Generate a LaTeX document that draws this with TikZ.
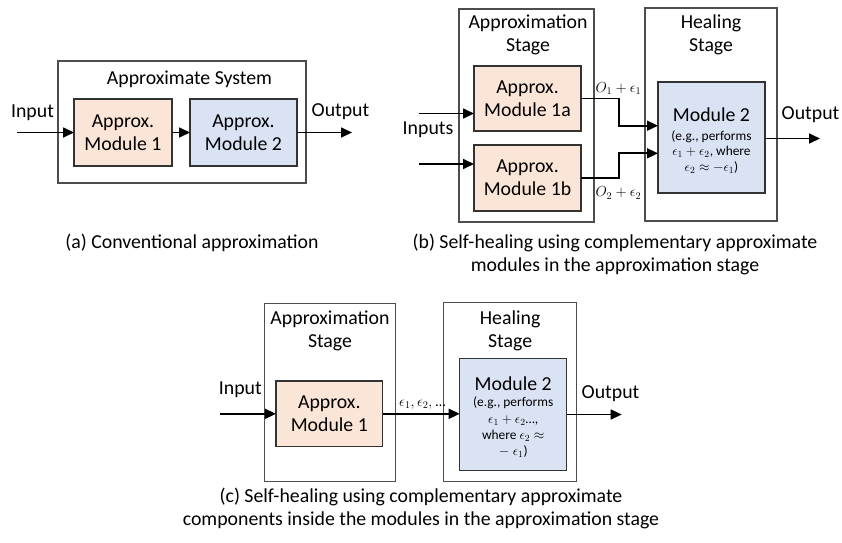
\RequirePackage{fix-cm}
\documentclass[tikz,border=0pt]{standalone}
\usepackage{fontspec}
\setmainfont{Carlito}
\usetikzlibrary{arrows.meta}

\definecolor{peach}{HTML}{FBE5D6}
\definecolor{paleblue}{HTML}{DAE3F3}
\definecolor{framegray}{HTML}{4D4D4D}
\definecolor{edgegray}{HTML}{333333}

\newcommand\lgfont{\fontsize{19.8}{23.2}\selectfont}
\newcommand\smfont{\fontsize{13.4}{15.6}\selectfont}
\newcommand\tagfont{\fontsize{14.6}{16}\selectfont}

\begin{document}
\begin{tikzpicture}[x=1pt,y=-1pt,
  stagebox/.style={draw=framegray, line width=1.1pt, inner sep=0pt, outer sep=0pt},
  modbox/.style={draw=edgegray, line width=1.2pt, inner sep=0pt, outer sep=0pt,
    align=center, font=\lgfont},
  approxmod/.style={modbox, fill=peach},
  healmod/.style={modbox, fill=paleblue},
  lbl/.style={inner sep=0pt, align=center, font=\lgfont},
  smlbl/.style={inner sep=0pt, align=center, font=\smfont},
  taglbl/.style={inner sep=0pt, font=\tagfont},
  arr/.style={draw=black, line width=1.7pt, -{Triangle[length=11pt,width=10pt]}},
]
\useasboundingbox (0,0) rectangle (842,542);

% ---------- (a) conventional approximation ----------
\node[stagebox, minimum width=248pt, minimum height=122pt] (sysA) at (182,122) {};
\node[lbl] (sysAtitle) at (189.5,79.5) {Approximate System};
\node[approxmod, minimum width=98pt, minimum height=67pt] (a1) at (123,132.5) {Approx.\\Module 1};
\node[healmod, minimum width=107pt, minimum height=67pt] (a2) at (243.5,132.5) {Approx.\\Module 2};
\node[lbl] (inAlbl) at (32.5,112.5) {Input};
\node[lbl] (outAlbl) at (340.5,111.5) {Output};
\coordinate (inA) at (17,132.5);
\coordinate (outA) at (352,132.5);
\draw[arr] (inA) -- (a1.west);
\draw[arr] (a1.east) -- (a2.west);
\draw[arr] (a2.east) -- (outA);
\node[lbl] (capA) at (192,243) {(a) Conventional approximation};

% ---------- (b) complementary modules ----------
\node[stagebox, minimum width=135pt, minimum height=213pt] (stB1) at (526.5,115.5) {};
\node[lbl] (stB1title) at (528,35) {Approximation\\Stage};
\node[approxmod, minimum width=107pt, minimum height=65pt] (b1a) at (527.5,98.5) {Approx.\\Module 1a};
\node[approxmod, minimum width=107pt, minimum height=66pt] (b1b) at (527.5,178) {Approx.\\Module 1b};
\node[stagebox, minimum width=132pt, minimum height=213pt] (stB2) at (711,114.5) {};
\node[lbl] (stB2title) at (711,35) {Healing\\Stage};
\node[healmod, minimum width=107pt, minimum height=111pt] (b2) at (711.5,137.5) {};
\node[lbl] (b2title) at (711.5,115) {Module 2};
\node[smlbl] (b2note) at (711.5,152) {(e.g., performs\\$\epsilon_1+\epsilon_2$, where\\$\epsilon_2\approx-\epsilon_1$)};
\node[lbl] (inBlbl) at (428,129.5) {Inputs};
\coordinate (inB1) at (419,113.5);
\coordinate (inB2) at (419,164);
\draw[arr] (inB1) -- (b1a.west |- inB1);
\draw[arr] (inB2) -- (b1b.west |- inB2);
\coordinate (kB1) at (619.3,125.7);
\coordinate (kB2) at (619.3,153.3);
\draw[arr] (b1a.east) -| (kB1) -- (b2.west |- kB1);
\draw[arr] (b1b.east) -| (kB2) -- (b2.west |- kB2);
\node[taglbl] (tagB1) at (618.5,88.5) {$O_1+\epsilon_1$};
\node[taglbl] (tagB2) at (618.5,193) {$O_2+\epsilon_2$};
\coordinate (outB) at (820,138.5);
\draw[arr] (b2.east |- outB) -- (outB);
\node[lbl] (outBlbl) at (810.5,115) {Output};
\node[lbl] (capB) at (615,254.5) {(b) Self-healing using complementary approximate\\modules in the approximation stage};

% ---------- (c) complementary components ----------
\node[stagebox, minimum width=131.7pt, minimum height=178.4pt] (stC1) at (330,392.5) {};
\node[lbl] (stC1title) at (330,330.7) {Approximation\\Stage};
\node[approxmod, minimum width=106.7pt, minimum height=65.7pt] (c1) at (329.3,413.8) {Approx.\\Module 1};
\node[stagebox, minimum width=133.2pt, minimum height=179.2pt] (stC2) at (510.1,392.1) {};
\node[lbl] (stC2title) at (510.1,330.7) {Healing\\Stage};
\node[healmod, minimum width=107pt, minimum height=112.4pt] (c2) at (513.2,414.5) {};
\node[lbl] (c2title) at (513.2,383.3) {Module 2};
\node[smlbl, font=\fontsize{13.4}{16.3}\selectfont] (c2note) at (513.2,427.5)
  {(e.g., performs\\$\epsilon_1+\epsilon_2$…,\\where $\epsilon_2\approx$\\${-}\;\epsilon_1$)};
\node[lbl] (inClbl) at (240.3,389.3) {Input};
\coordinate (inC) at (220,413.8);
\draw[arr] (inC) -- (c1.west);
\draw[arr] (c1.east) -- (c1.east -| c2.west);
\node[taglbl] (tagC) at (422.5,405) {$\epsilon_1,\epsilon_2,$ …};
\coordinate (outC) at (621.7,414.5);
\draw[arr] (c2.east) -- (outC);
\node[lbl] (outClbl) at (610.5,393.3) {Output};
\node[lbl] (capC) at (421,508.5) {(c) Self-healing using complementary approximate\\components inside the modules in the approximation stage};
\end{tikzpicture}
\end{document}
